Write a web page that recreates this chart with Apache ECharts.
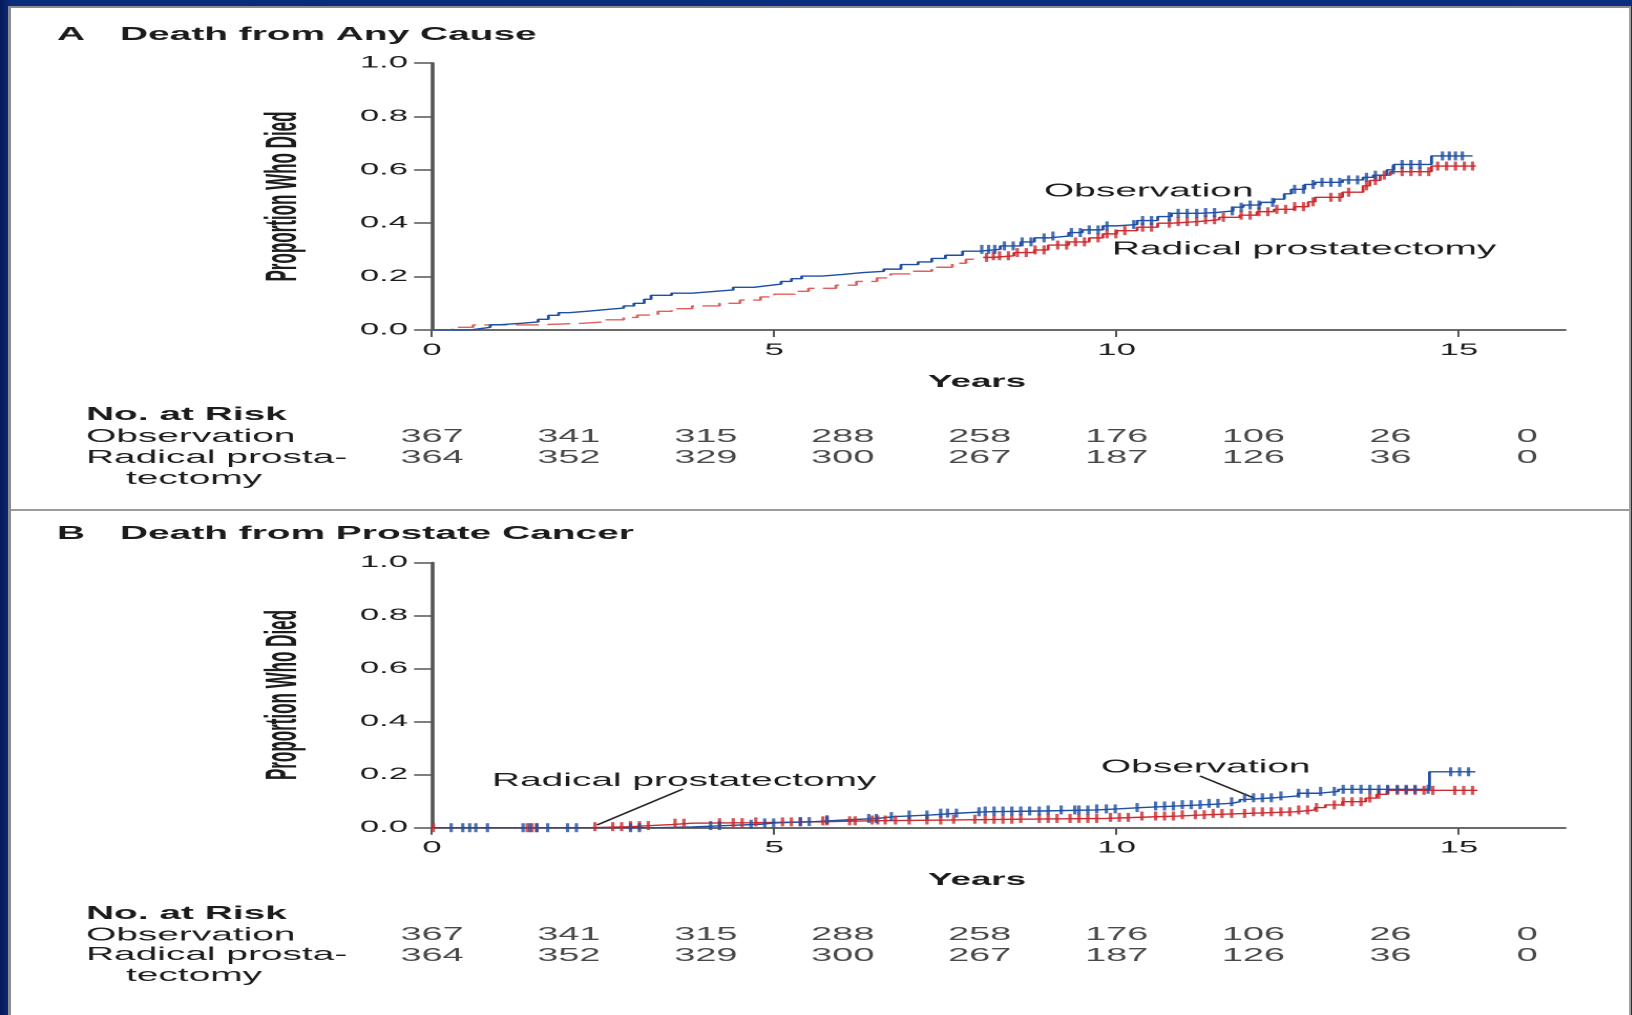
<!DOCTYPE html>
<html>
<head>
<meta charset="utf-8">
<script src="https://cdn.jsdelivr.net/npm/echarts@6/dist/echarts.min.js"></script>
<style>
  html, body { margin: 0; padding: 0; width: 1632px; height: 1015px; overflow: hidden;
    background: linear-gradient(to right, #061a5a 0px, #0b2b7c 10px, #0c2d80 100%); }
  #sheet { position: absolute; left: 8px; top: 6px; width: 1623px; height: 1009px; background: #fff;
    box-sizing: border-box; border-left: 3px solid #8c8c8c; border-top: 2px solid #8c8c8c; border-right: 2px solid #a0a0a0; }
  #rule { position: absolute; left: 11px; top: 509px; width: 1618px; height: 2px; background: #9c9c9c; }
  #chart { position: absolute; left: 0; top: 0; height: 1015px; transform-origin: 0 0; }
</style>
</head>
<body>
<div id="sheet"></div>
<div id="rule"></div>
<div id="chart"></div>
<script>
// The figure is typeset wide: everything is laid out at 1/SX width and stretched horizontally.
const SX = 2.1;
const W = 1632 / SX;
const ux = X => X / SX;

const FONT = '"Liberation Sans", Arial, sans-serif';
const NARROW = '"Liberation Sans Narrow", "Liberation Sans", Arial, sans-serif';
const INK = '#1c1c1c';
const BLUE = '#1f4fa3';
const RED = '#cc2b2f';
const RED_DASH = '#e0605e';

const X_MAX = 16.55;
const xTickYears = [0, 5, 10, 15];

// ---- A: death from any cause (cumulative proportion, step at each time) ----
const anyCauseObservation = [
  [0, 0], [0.55, 0.005], [0.7, 0.01], [0.85, 0.02], [1.0, 0.025], [1.3, 0.03], [1.55, 0.04], [1.7, 0.055],
  [1.85, 0.065], [2.0, 0.071], [2.3, 0.078], [2.6, 0.082], [2.8, 0.09], [2.95, 0.1], [3.1, 0.115], [3.2, 0.13],
  [3.5, 0.138], [3.8, 0.144], [4.1, 0.15], [4.4, 0.16], [4.7, 0.166], [4.9, 0.172], [5.1, 0.182], [5.25, 0.192],
  [5.4, 0.202], [5.7, 0.208], [6.0, 0.215], [6.3, 0.22], [6.6, 0.228], [6.85, 0.245], [7.1, 0.255], [7.3, 0.268],
  [7.5, 0.28], [7.75, 0.295], [8.0, 0.302], [8.3, 0.315], [8.6, 0.33], [8.8, 0.345], [9.0, 0.352], [9.3, 0.365],
  [9.5, 0.375], [9.8, 0.39], [10.0, 0.395], [10.3, 0.41], [10.6, 0.425], [10.8, 0.437], [11.2, 0.44], [11.45, 0.446],
  [11.7, 0.46], [11.85, 0.468], [12.1, 0.478], [12.3, 0.49], [12.45, 0.51], [12.55, 0.527], [12.75, 0.545],
  [12.9, 0.553], [13.3, 0.562], [13.6, 0.572], [13.75, 0.58], [13.95, 0.6], [14.05, 0.62], [14.6, 0.652], [15.2, 0.652]
];
const anyCauseSurgeryEarly = [
  [0, 0], [0.3, 0.01], [0.6, 0.019], [1.5, 0.025], [2.2, 0.03], [2.5, 0.038], [2.8, 0.047], [3.0, 0.056],
  [3.3, 0.07], [3.5, 0.08], [3.8, 0.09], [4.2, 0.1], [4.5, 0.112], [4.8, 0.124], [5.0, 0.134], [5.3, 0.145],
  [5.5, 0.156], [5.9, 0.168], [6.2, 0.182], [6.5, 0.195], [6.7, 0.21], [7.0, 0.22], [7.3, 0.235], [7.6, 0.25],
  [7.8, 0.265], [7.95, 0.27]
];
const anyCauseSurgeryLate = [
  [8.05, 0.272], [8.2, 0.278], [8.5, 0.29], [8.8, 0.3], [9.0, 0.318], [9.3, 0.33], [9.6, 0.345], [9.8, 0.36],
  [10.0, 0.372], [10.3, 0.385], [10.6, 0.4], [10.8, 0.406], [11.2, 0.413], [11.5, 0.422], [11.8, 0.43],
  [12.05, 0.443], [12.3, 0.452], [12.6, 0.462], [12.8, 0.48], [12.9, 0.497], [13.3, 0.516], [13.6, 0.54],
  [13.7, 0.56], [13.85, 0.58], [14.0, 0.593], [14.6, 0.614], [15.25, 0.614]
];
const anyCauseObservationCensored = [
  8.03, 8.13, 8.22, 8.36, 8.49, 8.62, 8.75, 8.94, 9.07, 9.34, 9.47, 9.6, 9.73, 9.86, 10.25, 10.38, 10.51,
  10.77, 10.9, 11.03, 11.17, 11.3, 11.43, 11.69, 11.82, 11.95, 12.08, 12.28, 12.6, 12.73, 12.87, 13.0, 13.13,
  13.26, 13.39, 13.52, 13.65, 13.78, 14.04, 14.17, 14.3, 14.43, 14.76, 14.86, 14.95, 15.05
];
const anyCauseSurgeryCensored = [
  8.1, 8.2, 8.29, 8.42, 8.55, 8.68, 8.81, 8.94, 9.14, 9.27, 9.4, 9.53, 9.73, 9.86, 9.99, 10.12, 10.38, 10.51,
  10.77, 10.9, 11.03, 11.17, 11.3, 11.43, 11.56, 11.82, 11.95, 12.08, 12.21, 12.34, 12.47, 12.6, 12.73, 12.87,
  13.13, 13.26, 13.39, 13.65, 13.78, 13.91, 14.17, 14.3, 14.43, 14.56, 14.69, 14.82, 14.95, 15.08, 15.2
];

// ---- B: death from prostate cancer ----
const cancerObservation = [
  [0, 0], [3.3, 0.003], [3.8, 0.008], [4.3, 0.013], [4.8, 0.018], [5.0, 0.023], [5.6, 0.03], [6.1, 0.035],
  [6.5, 0.042], [6.77, 0.048], [7.3, 0.055], [7.7, 0.06], [8.08, 0.063], [8.9, 0.067], [9.7, 0.071],
  [10.0, 0.076], [10.37, 0.082], [10.9, 0.087], [11.3, 0.092], [11.68, 0.098], [11.8, 0.106], [11.87, 0.113],
  [12.3, 0.12], [12.65, 0.13], [12.95, 0.137], [13.24, 0.145], [14.57, 0.211], [15.24, 0.211]
];
const cancerSurgery = [
  [0, 0], [2.3, 0.004], [2.9, 0.008], [3.2, 0.012], [3.5, 0.017], [3.8, 0.019], [4.7, 0.022], [5.6, 0.026],
  [6.4, 0.029], [7.5, 0.032], [8.6, 0.035], [9.85, 0.039], [10.3, 0.044], [10.9, 0.049], [11.35, 0.054],
  [11.9, 0.06], [12.6, 0.067], [12.9, 0.076], [13.05, 0.086], [13.3, 0.098], [13.64, 0.112], [13.8, 0.126],
  [13.95, 0.141], [15.27, 0.141]
];
const cancerObservationCensored = [
  0.28, 0.45, 0.55, 0.64, 0.81, 1.33, 1.43, 1.53, 1.69, 1.98, 2.11, 2.9, 3.03, 4.07, 4.2, 4.66, 4.86, 4.99,
  5.38, 5.51, 5.77, 6.38, 6.49, 6.71, 6.97, 7.23, 7.43, 7.53, 7.66, 7.99, 8.08, 8.21, 8.34, 8.47, 8.6, 8.73,
  8.87, 9.0, 9.19, 9.39, 9.45, 9.58, 9.71, 9.85, 9.98, 10.3, 10.57, 10.7, 10.83, 10.96, 11.09, 11.22, 11.35,
  11.48, 11.68, 11.87, 12.0, 12.13, 12.26, 12.4, 12.66, 12.79, 12.98, 13.18, 13.31, 13.44, 13.57, 13.7,
  13.83, 13.96, 14.1, 14.23, 14.36, 14.55, 14.88, 15.01, 15.14
];
const cancerSurgeryCensored = [
  0.02, 1.39, 1.46, 1.53, 2.38, 2.64, 2.77, 2.9, 3.03, 3.16, 3.55, 3.68, 4.2, 4.4, 4.53, 4.73, 5.12, 5.25,
  5.38, 5.71, 5.77, 6.1, 6.18, 6.43, 6.51, 6.62, 6.77, 6.97, 7.23, 7.43, 7.62, 7.93, 8.08, 8.21, 8.34, 8.47,
  8.6, 8.87, 9.0, 9.13, 9.32, 9.45, 9.58, 9.71, 9.91, 10.04, 10.17, 10.37, 10.57, 10.7, 10.83, 10.96, 11.15,
  11.28, 11.41, 11.54, 11.68, 11.87, 12.0, 12.13, 12.26, 12.4, 12.53, 12.66, 12.79, 12.92, 13.18, 13.31,
  13.44, 13.57, 13.7, 13.83, 13.96, 14.1, 14.23, 14.36, 14.49, 14.62, 14.94, 15.07, 15.2
];

// ---- numbers at risk ----
const riskYears = [0, 2, 4, 6, 8, 10, 12, 14, 16];
const riskObservation = [367, 341, 315, 288, 258, 176, 106, 26, 0];
const riskSurgery = [364, 352, 329, 300, 267, 187, 126, 36, 0];
const riskRows = ['Observation', 'Radical prostatectomy'];

// value of a step curve at time t (last event at or before t)
function stepAt(curve, t) {
  let v = curve[0][1];
  for (const [x, y] of curve) { if (x <= t) v = y; else break; }
  return v;
}
function censorPoints(times, curves) {
  return times.map(t => {
    let v = 0;
    for (const c of curves) if (t >= c[0][0]) v = stepAt(c, t);
    return [t, v];
  });
}

// layout of the two panels (vertical positions are in page pixels)
const PLOT_LEFT = ux(432), PLOT_W = ux(1565 - 432);
const panels = [
  { plotTop: 63, plotH: 267, tableTop: 426.5 },
  { plotTop: 562.7, plotH: 265, tableTop: 924.5 }
];

const grids = [], xAxes = [], yAxes = [];
panels.forEach(p => {
  grids.push({ left: PLOT_LEFT, width: PLOT_W, top: p.plotTop, height: p.plotH });
  grids.push({ left: PLOT_LEFT, width: PLOT_W, top: p.tableTop, height: 42 });
});
grids.forEach((g, i) => {
  const isPlot = i % 2 === 0;
  xAxes.push(isPlot ? {
    type: 'value', gridIndex: i, min: 0, max: X_MAX, interval: 5,
    axisLine: { show: true, onZero: false, lineStyle: { color: '#555', width: 1.8 } },
    axisTick: { show: true, length: 7, customValues: xTickYears, lineStyle: { color: '#555', width: 1 } },
    axisLabel: { customValues: xTickYears, margin: 12, fontSize: 16.5, color: INK, fontFamily: FONT },
    splitLine: { show: false }
  } : { type: 'value', gridIndex: i, min: 0, max: X_MAX, show: false });
  yAxes.push(isPlot ? {
    type: 'value', gridIndex: i, min: 0, max: 1, interval: 0.2,
    axisLine: { show: true, lineStyle: { color: '#555', width: 1.8 } },
    axisTick: { show: true, length: ux(18), lineStyle: { color: '#555', width: 1.5 } },
    axisLabel: { formatter: v => v.toFixed(1), margin: ux(24), fontSize: 16.5, color: INK, fontFamily: FONT },
    splitLine: { show: false }
  } : { type: 'category', gridIndex: i, data: riskRows, inverse: true, show: false });
});

function stepLine(data, gi, color, dashed) {
  return {
    type: 'line', step: 'end', data, xAxisIndex: gi, yAxisIndex: gi, showSymbol: false, silent: true,
    lineStyle: { color, width: 1.4, type: dashed ? [11, 4] : 'solid' }, z: 2
  };
}
function censorMarks(times, curves, gi, color) {
  return {
    type: 'scatter', data: censorPoints(times, curves), xAxisIndex: gi, yAxisIndex: gi,
    symbol: 'rect', symbolSize: [1.6, 9], itemStyle: { color }, silent: true, z: 3
  };
}
function riskTable(gi) {
  const data = [];
  riskYears.forEach((yr, k) => {
    data.push([yr, 0, riskObservation[k]]);
    data.push([yr, 1, riskSurgery[k]]);
  });
  return {
    type: 'scatter', data, xAxisIndex: gi, yAxisIndex: gi, symbolSize: 1,
    itemStyle: { color: 'rgba(0,0,0,0)' }, silent: true,
    label: { show: true, position: 'inside', formatter: p => String(p.value[2]),
      fontSize: 18, color: INK, fontFamily: FONT }
  };
}

const series = [
  stepLine(anyCauseSurgeryEarly, 0, RED_DASH, true),
  stepLine(anyCauseSurgeryLate, 0, RED, false),
  stepLine(anyCauseObservation, 0, BLUE, false),
  censorMarks(anyCauseSurgeryCensored, [anyCauseSurgeryEarly, anyCauseSurgeryLate], 0, RED),
  censorMarks(anyCauseObservationCensored, [anyCauseObservation], 0, BLUE),
  riskTable(1),
  stepLine(cancerSurgery, 2, RED, false),
  stepLine(cancerObservation, 2, BLUE, false),
  censorMarks(cancerSurgeryCensored, [cancerSurgery], 2, RED),
  censorMarks(cancerObservationCensored, [cancerObservation], 2, BLUE),
  riskTable(3)
];

function txt(text, X, y, opts) {
  return {
    type: 'text', x: ux(X), y, silent: true,
    style: Object.assign({ text, fill: INK, font: '18.5px ' + FONT, textAlign: 'left', textVerticalAlign: 'middle' }, opts || {})
  };
}
// rotated, condensed axis title
function yTitle(X, y) {
  return {
    type: 'text', x: ux(X), y, rotation: Math.PI / 2, scaleX: 0.81, silent: true,
    style: { text: 'Proportion Who Died', fill: INK, font: 'bold 21px ' + NARROW,
      textAlign: 'center', textVerticalAlign: 'middle' }
  };
}
function leader(x1, y1, x2, y2) {
  return { type: 'line', silent: true, shape: { x1: ux(x1), y1, x2: ux(x2), y2 },
    style: { stroke: '#222', lineWidth: 1.3 } };
}

const boldTitle = 'bold 18.5px ' + FONT;
const graphic = [
  txt('A', 57, 35, { font: boldTitle }),
  txt('Death from Any Cause', 120, 35, { font: boldTitle }),
  txt('B', 57, 534, { font: boldTitle }),
  txt('Death from Prostate Cancer', 120, 534, { font: boldTitle }),
  yTitle(284, 196.5),
  yTitle(284, 695),
  txt('Years', 977, 382, { font: 'bold 17.5px ' + FONT, textAlign: 'center' }),
  txt('Years', 977, 880, { font: 'bold 17.5px ' + FONT, textAlign: 'center' }),
  txt('No. at Risk', 86, 415, { font: boldTitle }),
  txt('Observation', 86, 437),
  txt('Radical prosta-', 86, 458),
  txt('tectomy', 126, 479),
  txt('No. at Risk', 86, 914, { font: boldTitle }),
  txt('Observation', 86, 935.5),
  txt('Radical prosta-', 86, 955),
  txt('tectomy', 126, 976),
  txt('Observation', 1044, 191.5),
  txt('Radical prostatectomy', 1112, 249.5),
  txt('Radical prostatectomy', 492, 781),
  txt('Observation', 1101, 767.5),
  leader(683, 789, 597, 825),
  leader(1200, 776, 1254, 798)
];

const dom = document.getElementById('chart');
dom.style.width = W + 'px';
dom.style.transform = 'scaleX(' + SX + ')';
const chart = echarts.init(dom, null, { renderer: 'canvas', devicePixelRatio: 2 });
chart.setOption({
  animation: false,
  backgroundColor: 'transparent',
  grid: grids,
  xAxis: xAxes,
  yAxis: yAxes,
  series,
  graphic
});
</script>
</body>
</html>
